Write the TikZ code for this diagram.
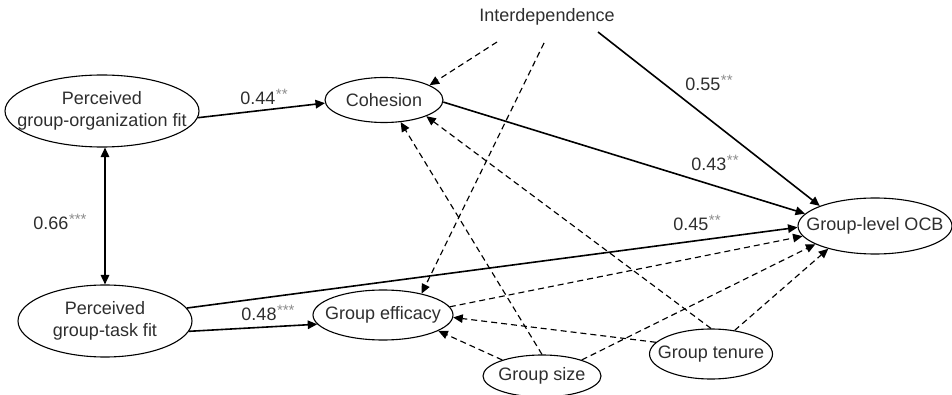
\documentclass[tikz,border=0pt]{standalone}
\usepackage{fontspec}
\setmainfont{Liberation Sans}
\usetikzlibrary{arrows.meta,calc,shapes.geometric}
\newcommand{\sigstar}[1]{\kern0.5pt\raisebox{5.5pt}{\fontsize{15}{15}\selectfont\color{black!45}#1}}
\begin{document}
\begin{tikzpicture}[x=1pt,y=-1pt,
  every node/.style={font=\fontsize{18}{22}\selectfont, text=black!82},
  oval/.style={draw, ellipse, line width=1.1pt, inner sep=0pt},
  lab/.style={inner sep=0pt},
  sarr/.style={line width=1.6pt, -{Triangle[length=9.5pt,width=8.5pt]}},
  darr/.style={line width=1.15pt, dash pattern=on 6pt off 4pt, -{Triangle[length=9.5pt,width=8.5pt]}},
  bidir/.style={line width=1.6pt, {Triangle[length=9.5pt,width=8.5pt]}-{Triangle[length=9.5pt,width=8.5pt]}}
]
\useasboundingbox (0,0) rectangle (952,395);

% nodes
\node[oval, minimum width=194pt, minimum height=72pt,
  label={[align=center]center:Perceived\\group-organization fit}] (pgo) at (102,111) {};
\node[oval, minimum width=118pt, minimum height=45pt,
  label={center:Cohesion}] (coh) at (384,100) {};
\node[oval, minimum width=174pt, minimum height=72pt,
  label={[align=center]center:Perceived\\group-task fit}] (pgt) at (105,321) {};
\node[oval, minimum width=140pt, minimum height=50pt,
  label={center:Group efficacy}] (eff) at (383,315) {};
\node[oval, minimum width=154pt, minimum height=56pt,
  label={center:Group-level OCB}] (ocb) at (875,226) {};
\node[oval, minimum width=123pt, minimum height=50pt,
  label={center:Group tenure}] (ten) at (711,354) {};
\node[oval, minimum width=118pt, minimum height=42pt,
  label={center:Group size}] (size) at (542,376) {};
\node[lab] (int) at (547,17) {Interdependence};

% solid paths
\draw[sarr] (pgo.-4) -- (coh.183);
\draw[bidir] (pgo.south -| pgt.north) -- (pgt.north);
\draw[sarr] (pgt.-7) -- (eff.-172);
\draw[sarr] (pgt.9) -- (ocb.181.5);
\draw[sarr] (coh.-2) -- (ocb.170);
\draw[sarr] ($(int.center)+(51,15)$) -- (ocb.160);

% dashed paths
\draw[darr] ($(int.center)+(-50,25)$) -- (coh.18);
\draw[darr] ($(int.center)+(-3,26)$) -- (eff.29);
\draw[darr] (size.north) -- (coh.-53);
\draw[darr] (ten.north) -- (coh.-21);
\draw[darr] (ten.168) -- (eff.-2);
\draw[darr] (size.158) -- (eff.-16);
\draw[darr] (eff.7) -- (ocb.188);
\draw[darr] (size.22) -- (ocb.197);
\draw[darr] (ten.45) -- (ocb.206);

% labels
\node[lab] (l44) at (264,97) {0.44\sigstar{**}};
\node[lab] (l66) at (60,222) {0.66\sigstar{***}};
\node[lab] (l48) at (268,313) {0.48\sigstar{***}};
\node[lab] (l45) at (697,223) {0.45\sigstar{**}};
\node[lab] (l55) at (709,83) {0.55\sigstar{**}};
\node[lab] (l43) at (715,163) {0.43\sigstar{**}};
\end{tikzpicture}
\end{document}
